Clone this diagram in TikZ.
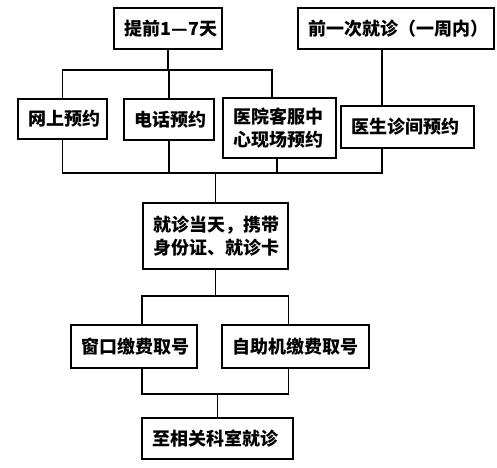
\documentclass[tikz,border=0pt]{standalone}
\usepackage{fontspec}
\setmainfont{Noto Sans CJK SC}
\usetikzlibrary{positioning,calc}

\begin{document}
\begin{tikzpicture}[
  x=1pt, y=-1pt,
  font=\fontsize{18}{23}\selectfont\bfseries,
  box/.style={draw, line width=1.5pt, anchor=north west, align=left, inner xsep=11pt, inner ysep=0pt},
  link/.style={line width=1.5pt},
]
  \useasboundingbox (0,0) rectangle (497,467);

  % booking channels
  \node[box, text width=86pt, minimum height=41pt] (ahead) at (113,7) {\mbox{提前1—7天}};
  \node[box, text width=174pt, minimum height=41pt] (last) at (297,7) {\mbox{前一次就诊（一周内）}};
  \node[box, text width=67pt, minimum height=40pt] (web) at (17,98) {网上预约};
  \node[box, text width=68pt, minimum height=41pt] (tel) at (123,98) {电话预约};
  \node[box, text width=91pt, minimum height=60pt] (desk) at (222,97) {医院客服中\\心现场预约};
  \node[box, text width=111pt, minimum height=42pt] (doc) at (340,105) {医生诊间预约};

  % visit day
  \node[box, text width=123pt, minimum height=66pt] (day) at (142,202) {\mbox{就诊当天，携带}\\\mbox{身份证、就诊卡}};
  \node[box, text width=104pt, minimum height=43pt] (win) at (70,324) {窗口缴费取号};
  \node[box, text width=125pt, minimum height=43pt] (self) at (221,324) {自助机缴费取号};
  \node[box, text width=129pt, minimum height=41pt] (dept) at (141,417) {至相关科室就诊};

  \coordinate (busA) at (0,70);
  \coordinate (busB) at (0,173);
  \coordinate (busC) at (0,296);
  \coordinate (busD) at (0,394);

  \draw[link] (ahead.south) -- (ahead.south |- busA);
  \draw[link] (web.north) |- ([xshift=-7.5pt]desk.north |- busA) -- ([xshift=-7.5pt]desk.north);
  \draw[link] (tel.north) -- (tel.north |- busA);
  \draw[link] ([xshift=-14pt]last.south) -- ([xshift=-14pt]last.south |- doc.north);

  \draw[link] (web.south) |- ([xshift=-25.5pt]doc.south |- busB) -- ([xshift=-25.5pt]doc.south);
  \draw[link] (tel.south) -- (tel.south |- busB);
  \draw[link] ([xshift=-2.5pt]desk.south) -- ([xshift=-2.5pt]desk.south |- busB);
  \draw[link] (day.north) -- (day.north |- busB);

  \draw[link] (day.south) -- (day.south |- busC);
  \draw[link] (win.north -| day.west) |- (day.east |- busC) -- (self.north -| day.east);
  \draw[link] (win.south -| day.west) |- (day.east |- busD) -- (self.south -| day.east);
  \draw[link] (dept.north) -- (dept.north |- busD);
\end{tikzpicture}
\end{document}
